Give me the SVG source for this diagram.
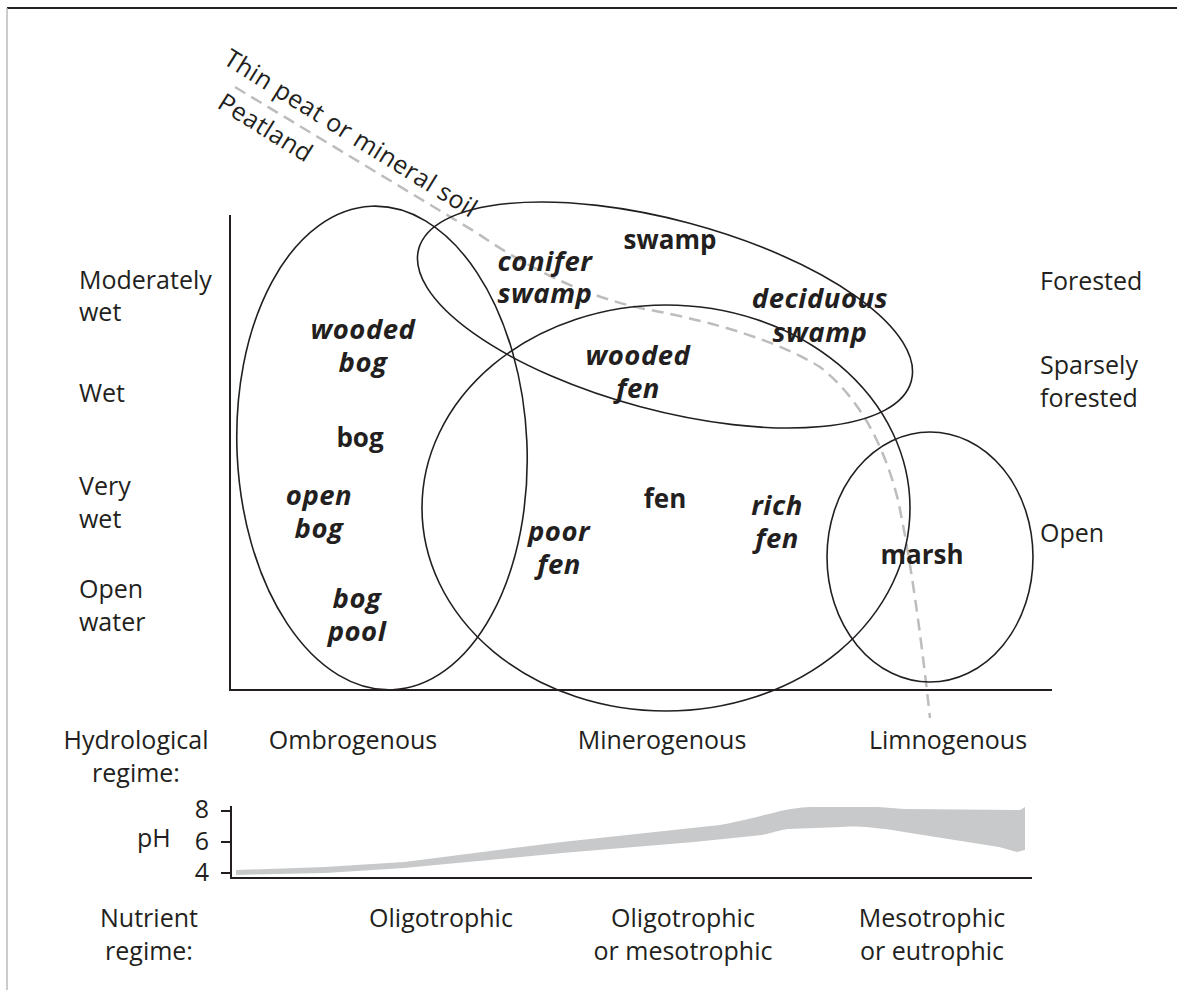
<svg xmlns="http://www.w3.org/2000/svg" width="1177" height="990" viewBox="0 0 1177 990">
<style>
text{font-family:"Open Sans","Liberation Sans",sans-serif;font-size:25px;fill:#231f20}
.b{font-weight:700;font-size:26px;text-anchor:middle}
.bi{font-weight:700;font-style:italic;font-size:27.5px;letter-spacing:0.5px;text-anchor:middle}
.m{text-anchor:middle}
.e{fill:none;stroke:#231f20;stroke-width:1.6}
.ax{fill:none;stroke:#231f20;stroke-width:2}
</style>
<rect width="1177" height="990" fill="#fff"/>
<line x1="7" y1="8" x2="1177" y2="8" stroke="#222" stroke-width="2"/>
<line x1="7" y1="8" x2="7" y2="990" stroke="#bbb" stroke-width="1.5"/>

<g id="axes">
<line class="ax" x1="230" y1="215" x2="230" y2="690"/>
<line class="ax" x1="229" y1="690" x2="1052" y2="690"/>
</g>

<g id="connectors">
<path d="M235,87 L477,233 Q560,290 640,308 Q760,330 820,367 Q875,410 898,500 Q915,580 930,718" fill="none" stroke="#bdbdbd" stroke-width="2.5" stroke-dasharray="12,7"/>
</g>

<g id="soil-labels">
<text transform="translate(222,63) rotate(32)" style="letter-spacing:0.4px">Thin peat or mineral soil</text>
<text transform="translate(216,107) rotate(32)" style="letter-spacing:0.4px">Peatland</text>
</g>

<g id="bog">
<ellipse class="e" cx="382" cy="448" rx="145" ry="242" transform="rotate(-2.5 382 448)"/>
<text class="bi" x="363" y="339">wooded</text>
<text class="bi" x="363" y="372">bog</text>
<text class="b" x="360" y="447">bog</text>
<text class="bi" x="319" y="505">open</text>
<text class="bi" x="319" y="538">bog</text>
<text class="bi" x="357" y="608">bog</text>
<text class="bi" x="357" y="641">pool</text>
</g>

<g id="swamp">
<ellipse class="e" cx="665" cy="315" rx="255" ry="95" transform="rotate(15 665 315)"/>
<text class="b" x="670" y="249">swamp</text>
<text class="bi" x="545" y="271">conifer</text>
<text class="bi" x="545" y="303">swamp</text>
<text class="bi" x="820" y="308">deciduous</text>
<text class="bi" x="820" y="342">swamp</text>
</g>

<g id="fen">
<ellipse class="e" cx="666" cy="508" rx="244" ry="203"/>
<text class="bi" x="638" y="365">wooded</text>
<text class="bi" x="638" y="398">fen</text>
<text class="b" x="665" y="508">fen</text>
<text class="bi" x="559" y="541">poor</text>
<text class="bi" x="559" y="574">fen</text>
<text class="bi" x="777" y="515">rich</text>
<text class="bi" x="777" y="548">fen</text>
</g>

<g id="marsh">
<ellipse class="e" cx="930" cy="557" rx="103" ry="125"/>
<text class="b" x="922" y="564">marsh</text>
</g>

<g id="wetness-labels">
<text x="79" y="289">Moderately</text>
<text x="79" y="321">wet</text>
<text x="79" y="402">Wet</text>
<text x="79" y="495">Very</text>
<text x="79" y="528">wet</text>
<text x="79" y="598">Open</text>
<text x="79" y="631">water</text>
</g>

<g id="forest-labels">
<text x="1040" y="290">Forested</text>
<text x="1040" y="374">Sparsely</text>
<text x="1040" y="407">forested</text>
<text x="1040" y="542">Open</text>
</g>

<g id="hydro">
<text class="m" x="136" y="749">Hydrological</text>
<text class="m" x="136" y="782">regime:</text>
<text class="m" x="353" y="749">Ombrogenous</text>
<text class="m" x="662" y="749">Minerogenous</text>
<text class="m" x="948" y="749">Limnogenous</text>
</g>

<g id="ph">
<path d="M236,870 L325,867 L404,862 L562,842 L720,825 C745,820 760,816 773,813 C790,808 805,807 815,807 L878,807 L904,809 L1020,810 L1025,807 L1025,850 L1017,852 L999,847 L904,832 C870,826 850,826 841,827 L788,829 C775,831 768,834 762,835 L694,842 L562,853 L404,868 L325,873 L236,875 Z" fill="#c8c9ca"/>
<line class="ax" x1="231" y1="806" x2="231" y2="879"/>
<line class="ax" x1="230" y1="878" x2="1032" y2="878"/>
<line class="ax" x1="221" y1="811" x2="231" y2="811"/>
<line class="ax" x1="221" y1="842" x2="231" y2="842"/>
<line class="ax" x1="221" y1="873" x2="231" y2="873"/>
<text x="137" y="847">pH</text>
<text class="m" x="202" y="818">8</text>
<text class="m" x="202" y="850">6</text>
<text class="m" x="202" y="881">4</text>
</g>

<g id="nutrient">
<text class="m" x="149" y="927">Nutrient</text>
<text class="m" x="149" y="960">regime:</text>
<text class="m" x="441" y="927">Oligotrophic</text>
<text class="m" x="683" y="927">Oligotrophic</text>
<text class="m" x="683" y="960">or mesotrophic</text>
<text class="m" x="932" y="927">Mesotrophic</text>
<text class="m" x="932" y="960">or eutrophic</text>
</g>
</svg>
